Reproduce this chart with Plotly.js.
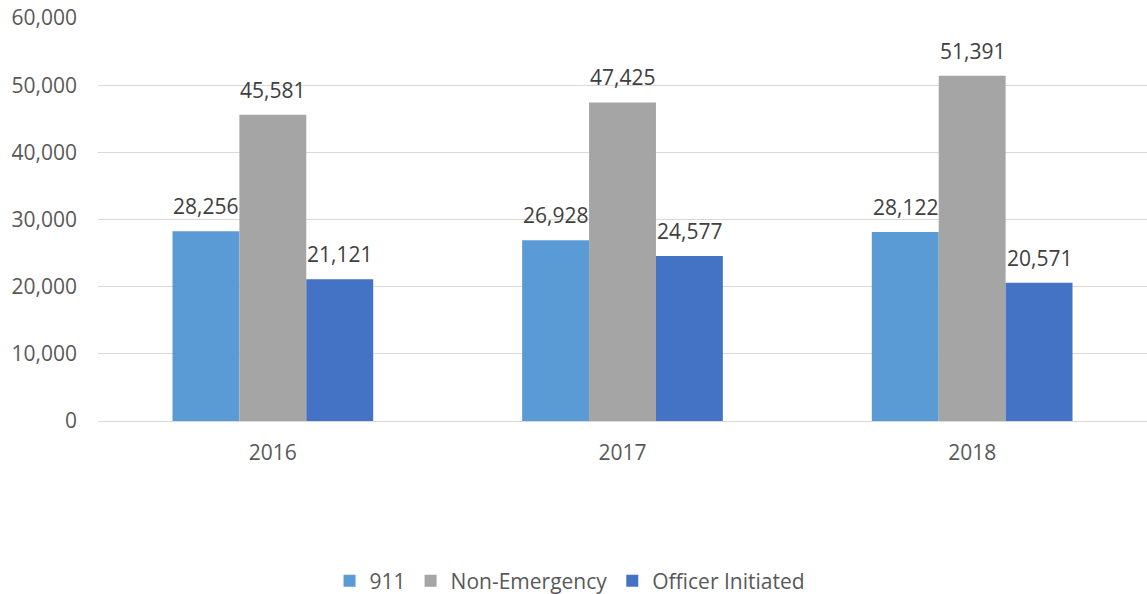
<!DOCTYPE html>
<html>
<head>
<meta charset="utf-8">
<script src="https://cdn.plot.ly/plotly-3.0.1.min.js"></script>
<style>html,body{margin:0;padding:0;background:#fff;}#chart{width:1147px;height:594px;}</style>
</head>
<body>
<div id="chart"></div>
<script>
const years = ["2016", "2017", "2018"];
const seriesNames = ["911", "Non-Emergency", "Officer Initiated"];
const calls911 = [28256, 26928, 28122];
const nonEmergency = [45581, 47425, 51391];
const officerInitiated = [21121, 24577, 20571];
const colors = ["#5B9BD5", "#A5A5A5", "#4472C4"];

const FONT = "Open Sans, Noto Sans, sans-serif";
const allValues = [calls911, nonEmergency, officerInitiated];

const traces = allValues.map((vals, i) => ({
  type: "bar",
  name: seriesNames[i],
  x: years,
  y: vals,
  marker: {color: colors[i]},
  hoverinfo: "x+y+name"
}));

const BAR_PX = 67;
const annotations = [];
allValues.forEach((vals, i) => {
  vals.forEach((v, j) => {
    annotations.push({
      x: j, y: v, xref: "x", yref: "y",
      text: v.toLocaleString("en-US"),
      showarrow: false, yanchor: "bottom", xanchor: "center",
      xshift: (i - 1) * BAR_PX, yshift: 9,
      font: {family: FONT, size: 21, color: "#404040"}
    });
  });
});

const layout = {
  width: 1147, height: 594,
  margin: {l: 98, r: 0, t: 18, b: 173, autoexpand: false},
  paper_bgcolor: "#ffffff", plot_bgcolor: "#ffffff",
  font: {family: FONT, size: 21, color: "#595959"},
  barmode: "group", bargap: 0.426, bargroupgap: 0,
  showlegend: true,
  legend: {orientation: "h", x: 0.45, xanchor: "center", y: -0.397, yanchor: "middle",
           font: {family: FONT, size: 21, color: "#595959"}, itemwidth: 30, tracegroupgap: 0},
  xaxis: {type: "category", categoryarray: years, categoryorder: "array", range: [-0.5, 2.5],
          automargin: false, showgrid: false, ticks: "", showline: false, zeroline: false,
          tickfont: {family: FONT, size: 21, color: "#595959"}, ticklabelstandoff: 17},
  yaxis: {range: [0, 60000], dtick: 10000, tickformat: ",d", showgrid: true, gridcolor: "#d9d9d9",
          automargin: false, gridwidth: 1, zeroline: true, zerolinecolor: "#d9d9d9", zerolinewidth: 1,
          showline: false, ticks: "",
          tickfont: {family: FONT, size: 21, color: "#595959"}, ticklabelstandoff: 20},
  annotations: annotations
};

Plotly.newPlot("chart", traces, layout, {displayModeBar: false, staticPlot: true});
</script>
</body>
</html>
